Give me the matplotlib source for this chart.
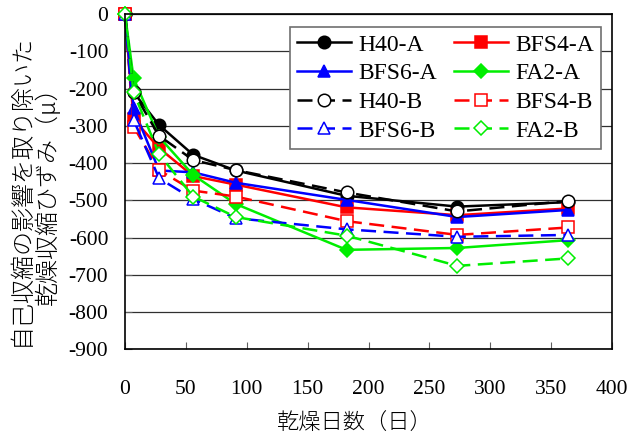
import matplotlib.pyplot as plt

# drying days
days = [0, 7, 28, 56, 91, 182, 273, 364]

# drying shrinkage strain net of autogenous shrinkage (micro)
h40_a = [0, -210, -298, -378, -420, -488, -517, -505]
bfs4_a = [0, -282, -360, -435, -458, -519, -540, -522]
bfs6_a = [0, -253, -420, -425, -453, -499, -545, -526]
fa2_a = [0, -172, -330, -432, -510, -633, -628, -607]
h40_b = [0, -210, -327, -392, -419, -479, -530, -502]
bfs4_b = [0, -302, -419, -474, -490, -556, -593, -573]
bfs6_b = [0, -284, -441, -497, -548, -578, -598, -593]
fa2_b = [0, -210, -376, -490, -545, -595, -676, -656]

series_names = ['H40-A', 'BFS6-A', 'H40-B', 'BFS6-B',
                'BFS4-A', 'FA2-A', 'BFS4-B', 'FA2-B']

y_ticks = list(range(-900, 1, 100))
x_ticks = list(range(0, 401, 50))

plt.rcParams['font.family'] = ['Liberation Serif', 'Noto Sans CJK JP']
plt.rcParams['axes.unicode_minus'] = False
plt.rcParams['lines.dash_capstyle'] = 'butt'

fig = plt.figure(figsize=(6.32, 4.37), dpi=100)
ax = fig.add_axes([125 / 632, 1 - 349.3 / 437, 487 / 632, 335.3 / 437])

lw = 1.8
ms = 9
dash = (0, (6, 3))

styles = {
    'H40-A': (h40_a, 'black', 'o', 'black', '-'),
    'BFS4-A': (bfs4_a, '#ff0000', 's', '#ff0000', '-'),
    'BFS6-A': (bfs6_a, '#0000ff', '^', '#0000ff', '-'),
    'FA2-A': (fa2_a, '#00ee00', 'D', '#00ee00', '-'),
    'H40-B': (h40_b, 'black', 'o', 'white', dash),
    'BFS4-B': (bfs4_b, '#ff0000', 's', 'white', dash),
    'BFS6-B': (bfs6_b, '#0000ff', '^', 'white', dash),
    'FA2-B': (fa2_b, '#00ee00', 'D', 'white', dash),
}

handles = {}
for name in ['H40-A', 'BFS4-A', 'BFS6-A', 'FA2-A',
             'H40-B', 'BFS4-B', 'BFS6-B', 'FA2-B']:
    vals, color, marker, face, ls = styles[name]
    size = ms - 1.5 if marker == 'D' else ms
    line, = ax.plot(days, vals, color=color, linestyle=ls, lw=lw,
                    marker=marker, markersize=size, markerfacecolor=face,
                    markeredgecolor=color, markeredgewidth=1.1,
                    clip_on=False, label=name)
    handles[name] = line

ax.set_xlim(0, 400)
ax.set_ylim(-900, 0)
ax.set_xticks(x_ticks)
ax.set_yticks(y_ticks)
ax.tick_params(axis='both', direction='in', length=5, width=0.8,
               labelsize=15.5, color='#606060')
ax.tick_params(axis='x', pad=22)
ax.tick_params(axis='y', pad=12)
for lab in ax.get_xticklabels() + ax.get_yticklabels():
    lab.set_fontfamily('Liberation Serif')

ax.grid(axis='y', color='#303030', lw=0.9)
ax.set_axisbelow(True)
for side in ['left', 'right', 'bottom', 'top']:
    ax.spines[side].set_color('black')
    ax.spines[side].set_linewidth(1.2)

leg = ax.legend([handles[n] for n in series_names], series_names, ncol=2,
                loc='upper right', bbox_to_anchor=(0.977, 0.961),
                prop={'family': 'Liberation Serif', 'size': 17},
                frameon=True, fancybox=False,
                edgecolor='#707070', framealpha=1, handlelength=2.3,
                handletextpad=0.3, columnspacing=0.7, labelspacing=0.3,
                borderpad=0.3, borderaxespad=0)
leg.get_frame().set_linewidth(1.2)

ax.set_xlabel('乾燥日数（日）', fontsize=16, fontweight='light',
              family=['Noto Sans CJK JP'])
ax.xaxis.set_label_coords(0.472, -0.19)

fig.text(35 / 632, 1 - 190 / 437,
         '自己収縮の影響を取り除いた\n乾燥収縮ひずみ（μ）',
         rotation=90, ha='center', va='center', multialignment='center',
         fontsize=17.3, fontweight='light',
         family=['Noto Sans CJK JP', 'DejaVu Sans'], linespacing=1.1)

fig.savefig('out.png', dpi=100)
